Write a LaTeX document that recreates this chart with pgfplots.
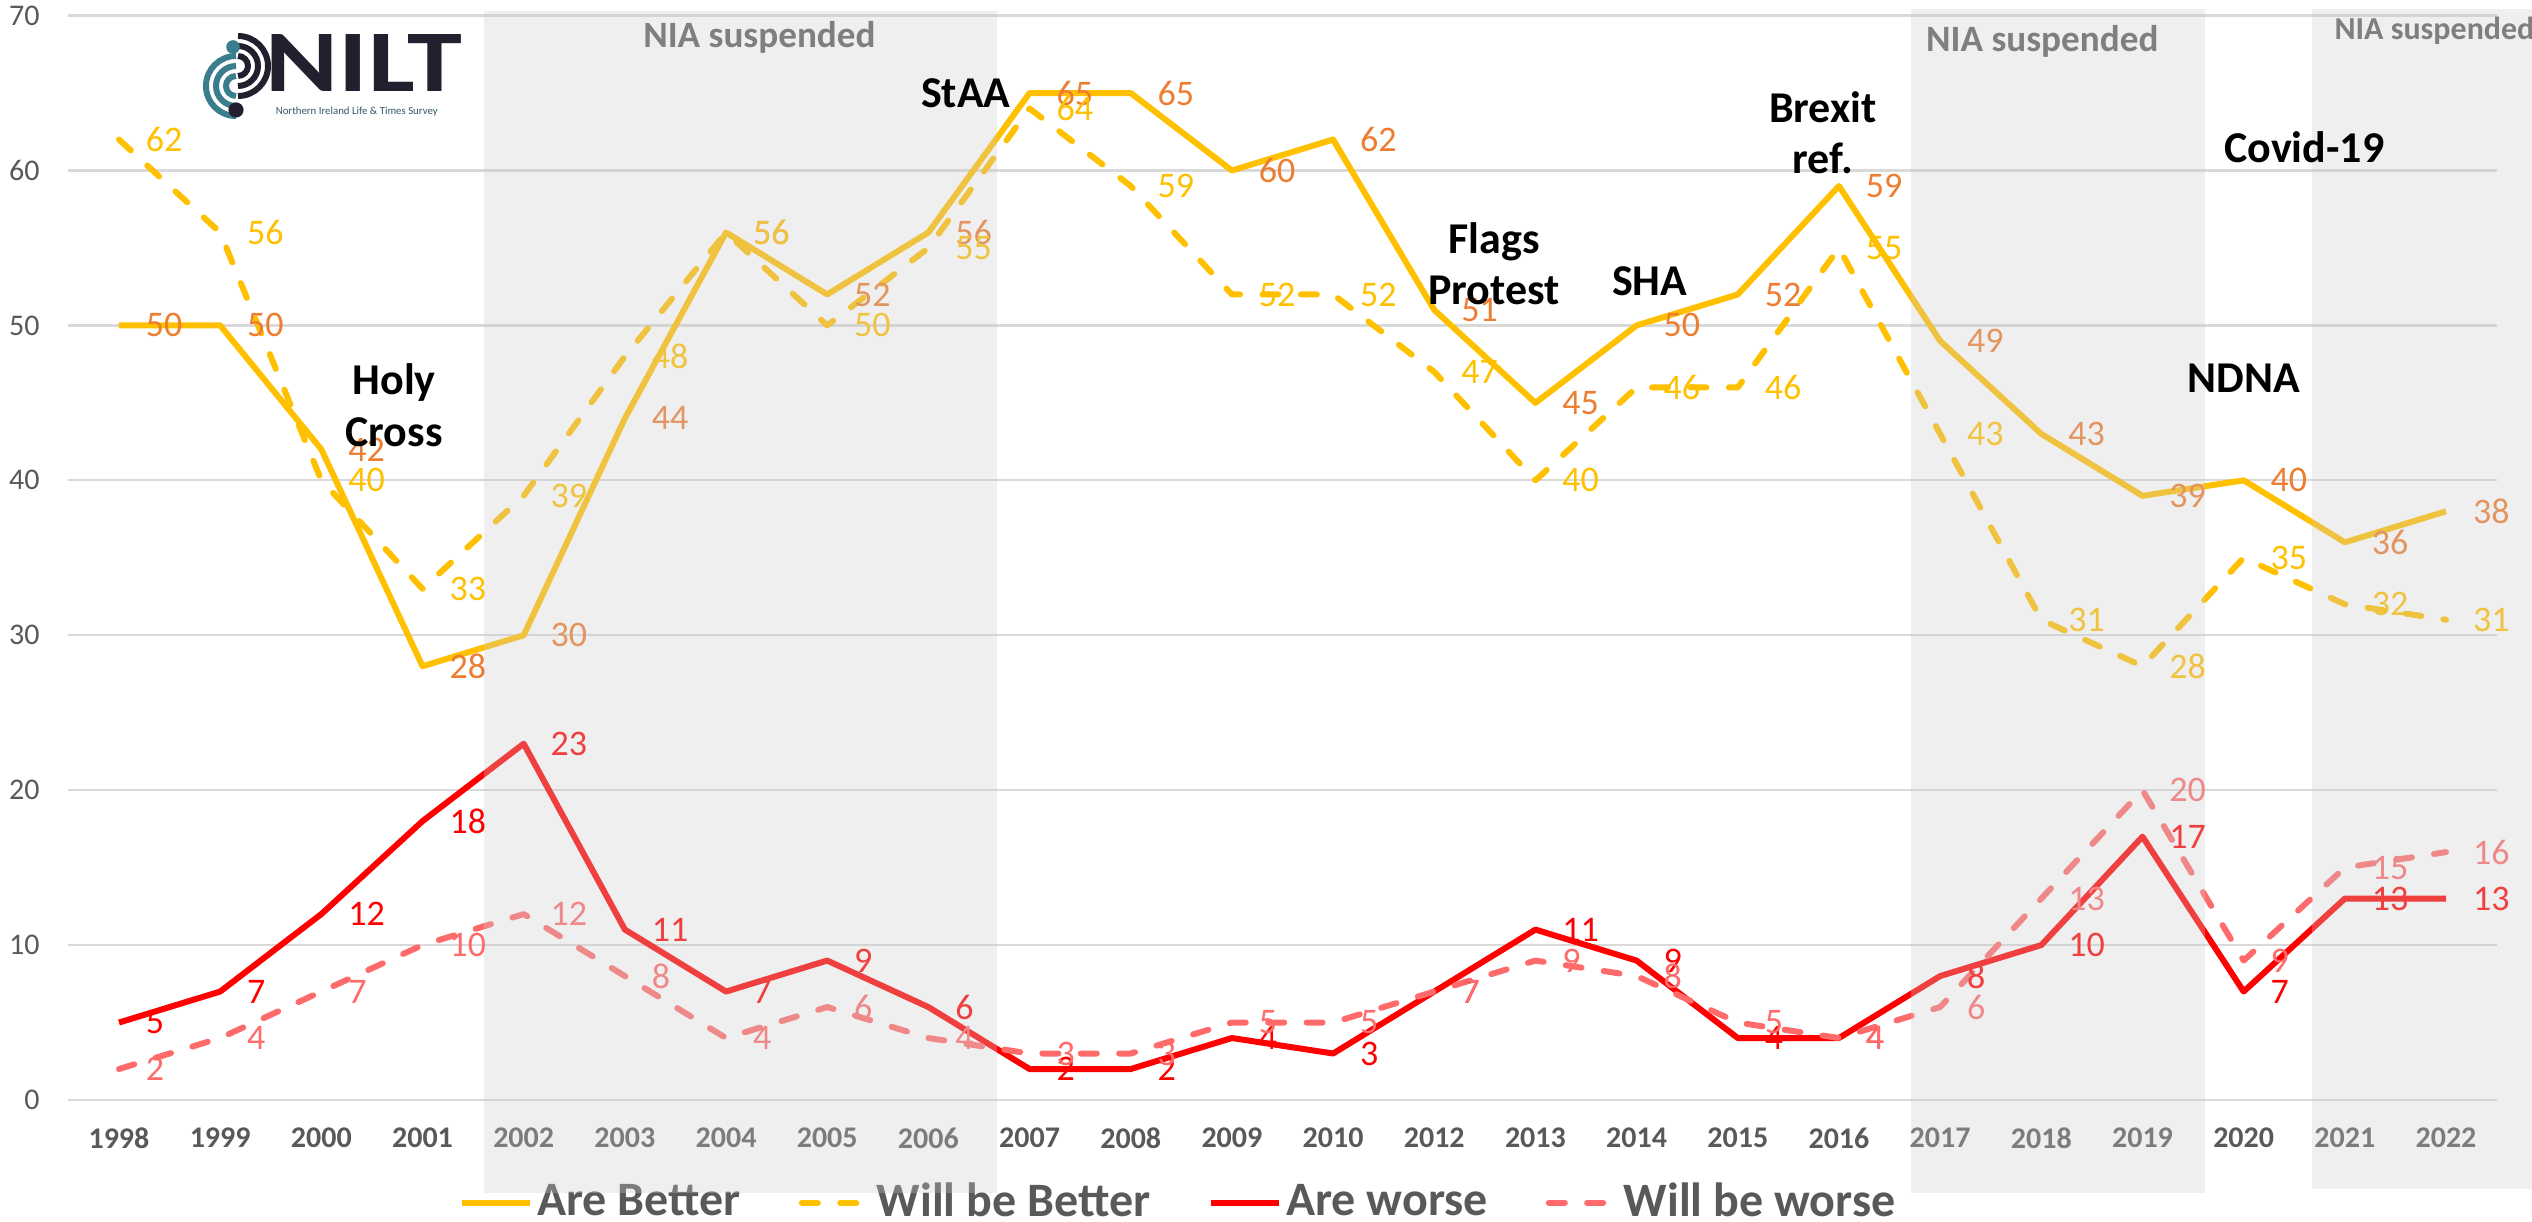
\documentclass[border=0pt]{standalone}
\usepackage{fontspec}
\setmainfont{Carlito}
\usepackage{graphicx}
\usepackage{pgfplots}
\pgfplotsset{compat=1.18}
\definecolor{gold}{HTML}{FFC000}
\definecolor{orangelab}{HTML}{ED7D31}
\definecolor{redl}{HTML}{FF0000}
\definecolor{lightred}{HTML}{FF6B6B}
\definecolor{tickgray}{HTML}{595959}
\definecolor{gridgray}{HTML}{D9D9D9}
\definecolor{shadecol}{HTML}{CCCCCC}
\definecolor{niagray}{HTML}{7F7F7F}
\definecolor{navy}{HTML}{231F2E}
\definecolor{teal}{HTML}{3A7D8C}
\pgfdeclarelayer{shade}
\pgfplotsset{layers/mylayers/.define layer set={axis background,axis grid,axis ticks,axis lines,axis tick labels,pre main,main,shade,axis descriptions,axis foreground}{}}
\begin{document}
\begin{tikzpicture}
\begin{axis}[
  set layers=mylayers,
  at={(0pt,0pt)}, anchor=south west,
  width=607.05pt, height=271.1pt, scale only axis,
  xmin=-0.5, xmax=23.5, ymin=0, ymax=70,
  clip=false,
  xtick={0,...,23},
  xticklabels={1998,1999,2000,2001,2002,2003,2004,2005,2006,2007,2008,2009,2010,2012,2013,2014,2015,2016,2017,2018,2019,2020,2021,2022},
  ytick={0,10,...,70},
  ymajorgrids, major grid style={draw=gridgray, line width=0.55pt},
  axis line style={draw=none}, major tick length=0pt, tick style={draw=none},
  xticklabel style={font=\bfseries\fontsize{7.5}{9}\selectfont, text=tickgray, anchor=north, inner sep=0pt, yshift=-6.75pt},
  yticklabel style={font=\fontsize{7.5}{9}\selectfont, text=tickgray, anchor=east, inner sep=0pt, xshift=-7pt},
  /pgf/number format/assume math mode=true,
  every node near coord/.append style={anchor=west, inner sep=0pt, xshift=6pt, font=\fontsize{9}{10}\selectfont},
  legend columns=4,
  legend style={at={(axis description cs:0.4575,-0.095)}, anchor=center, draw=none, fill=none,
    font=\bfseries\fontsize{12}{14}\selectfont, text=tickgray,
    /tikz/every even column/.append style={column sep=13.5pt}, nodes={inner sep=1pt}},
  legend image code/.code={\draw[#1] (0pt,0pt) -- (17pt,0pt);},
]
\addplot[gold, line width=1.5pt, line join=round, nodes near coords, every node near coord/.append style={text=orangelab}] coordinates {
(0,50)(1,50)(2,42)(3,28)(4,30)(5,44)(6,56)(7,52)(8,56)(9,65)(10,65)(11,60)(12,62)(13,51)(14,45)(15,50)(16,52)(17,59)(18,49)(19,43)(20,39)(21,40)(22,36)(23,38)};
\addlegendentry{Are Better}
\addplot[gold, line width=1.5pt, line join=round, line cap=round, dash pattern=on 4pt off 5.6pt, nodes near coords, every node near coord/.append style={text=gold}] coordinates {
(0,62)(1,56)(2,40)(3,33)(4,39)(5,48)(6,56)(7,50)(8,55)(9,64)(10,59)(11,52)(12,52)(13,47)(14,40)(15,46)(16,46)(17,55)(18,43)(19,31)(20,28)(21,35)(22,32)(23,31)};
\addlegendentry{Will be Better}
\addplot[redl, line width=1.5pt, line join=round, nodes near coords, every node near coord/.append style={text=redl}] coordinates {
(0,5)(1,7)(2,12)(3,18)(4,23)(5,11)(6,7)(7,9)(8,6)(9,2)(10,2)(11,4)(12,3)(13,7)(14,11)(15,9)(16,4)(17,4)(18,8)(19,10)(20,17)(21,7)(22,13)(23,13)};
\addlegendentry{Are worse}
\addplot[lightred, line width=1.5pt, line join=round, line cap=round, dash pattern=on 4pt off 5.6pt, nodes near coords, every node near coord/.append style={text=lightred}] coordinates {
(0,2)(1,4)(2,7)(3,10)(4,12)(5,8)(6,4)(7,6)(8,4)(9,3)(10,3)(11,5)(12,5)(13,7)(14,9)(15,8)(16,5)(17,4)(18,6)(19,13)(20,20)(21,9)(22,15)(23,16)};
\addlegendentry{Will be worse}
\begin{pgfonlayer}{shade}
\fill[shadecol, opacity=0.31] (axis cs:3.61,-6) rectangle (axis cs:8.68,70.3);
\fill[shadecol, opacity=0.31] (axis cs:17.71,-6) rectangle (axis cs:20.62,70.4);
\fill[shadecol, opacity=0.31] (axis cs:21.68,-5.75) rectangle (axis cs:24.3,70.43);
\end{pgfonlayer}
\begin{pgfonlayer}{axis foreground}
\node[font=\bfseries\fontsize{9.3}{10}\selectfont, text=niagray] at (axis cs:6.33,68.6) {NIA suspended};
\node[font=\bfseries\fontsize{9.3}{10}\selectfont, text=niagray] at (axis cs:19.01,68.34) {NIA suspended};
\node[font=\bfseries\fontsize{8}{9}\selectfont, text=niagray, anchor=west, inner sep=0pt] at (axis cs:21.89,69.0) {NIA suspended};
\node[font=\bfseries\fontsize{11}{12.8}\selectfont, align=center] at (axis cs:2.72,44.85) {Holy\\Cross};
\node[font=\bfseries\fontsize{11}{12.8}\selectfont] at (axis cs:8.37,65) {StAA};
\node[font=\bfseries\fontsize{11}{12.8}\selectfont, align=center] at (axis cs:13.59,54.0) {Flags\\Protest};
\node[font=\bfseries\fontsize{11}{12.8}\selectfont] at (axis cs:15.13,52.84) {SHA};
\node[font=\bfseries\fontsize{11}{12.8}\selectfont, align=center] at (axis cs:16.84,62.45) {Brexit\\ref.};
\node[font=\bfseries\fontsize{11}{12.8}\selectfont] at (axis cs:21.6,61.5) {Covid-19};
\node[font=\bfseries\fontsize{11}{12.8}\selectfont] at (axis cs:21.0,46.6) {NDNA};
\end{pgfonlayer}
\end{axis}
% logo
\begin{scope}[line width=1.5pt]
\foreach \r in {7.5,5,2.5} {
  \draw[teal] (41.9pt,253.5pt) ++(0pt,\r pt) arc[start angle=90,end angle=270,radius=\r pt];
  \draw[navy] (42.4pt,258.5pt) ++(0pt,\r pt) arc[start angle=90,end angle=-90,radius=\r pt];
}
\fill[teal] (41.15pt,263.25pt) circle (1.7pt);
\fill[navy] (41.9pt,247.5pt) circle (1.9pt);
\end{scope}
\node[anchor=base west, inner sep=0pt, text=navy] at (49.15pt,252pt) {\resizebox{49pt}{14.25pt}{\bfseries NILT}};
\node[anchor=base west, inner sep=0pt, text=teal!60!navy] at (51.65pt,246.25pt) {\resizebox{40.5pt}{!}{\fontsize{4}{4}\selectfont Northern Ireland Life \& Times Survey}};
\pgfresetboundingbox
\path (-17.1pt,-30.5pt) rectangle (615.9pt,275pt);
\end{tikzpicture}
\end{document}
